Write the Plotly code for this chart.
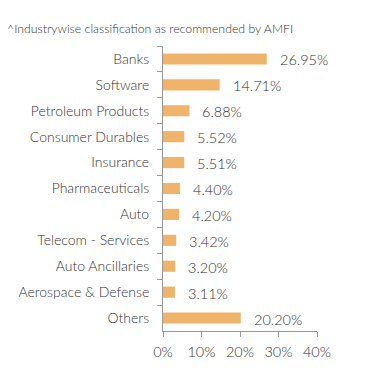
import plotly.graph_objects as go

categories = ["Banks", "Software", "Petroleum Products", "Consumer Durables", "Insurance",
              "Pharmaceuticals", "Auto", "Telecom - Services", "Auto Ancillaries",
              "Aerospace & Defense", "Others"]
values = [26.95, 14.71, 6.88, 5.52, 5.51, 4.40, 4.20, 3.42, 3.20, 3.11, 20.20]
x_ticks = [0, 10, 20, 30, 40]
x_tick_labels = ["0%", "10%", "20%", "30%", "40%"]
title = "^Industrywise classification as recommended by AMFI"

FONT = "Lato"
TXT = "#333333"
W = 300

fig = go.Figure(go.Bar(
    x=values, y=categories, orientation="h",
    marker=dict(color="#F0B36A", line=dict(width=0)),
    hoverinfo="skip",
))

for c, v in zip(categories, values):
    fig.add_annotation(x=v, y=c, text=f"{v:.2f}%", showarrow=False,
                       xanchor="left", xshift=11, yshift=-1,
                       font=dict(family=FONT, size=14.5, color=TXT, weight=W))

fig.add_annotation(x=0, y=1, xref="paper", yref="paper", xanchor="left", yanchor="bottom",
                   text=title, showarrow=False, xshift=-158, yshift=8,
                   font=dict(family=FONT, size=12.3, color=TXT, weight=W))

fig.update_layout(
    width=383, height=375,
    margin=dict(l=155, r=74, t=38, b=52),
    paper_bgcolor="white", plot_bgcolor="white",
    bargap=0.57, showlegend=False,
    font=dict(family=FONT, size=13, color=TXT, weight=W),
    xaxis=dict(range=[0, 40], tickvals=x_ticks, ticktext=x_tick_labels,
               showgrid=False, zeroline=False, showline=True, linecolor="#999999",
               linewidth=1, ticks="outside", ticklen=5, tickcolor="#999999",
               ticklabelstandoff=3, automargin=False,
               tickfont=dict(family=FONT, size=14.5, color=TXT, weight=W), fixedrange=True),
    yaxis=dict(autorange="reversed", showgrid=False, showline=True, linecolor="#999999",
               linewidth=1, ticks="outside", ticklen=5, tickcolor="#999999",
               tickson="boundaries", ticklabelstandoff=10, automargin=False,
               tickfont=dict(family=FONT, size=14, color=TXT, weight=W), fixedrange=True),
)

fig.write_html("out.html", config={"displayModeBar": False})
